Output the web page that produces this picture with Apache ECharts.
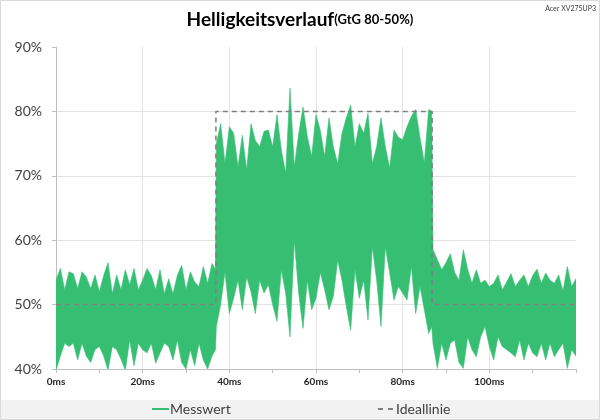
<!DOCTYPE html>
<html><head><meta charset="utf-8">
<script src="https://cdn.jsdelivr.net/npm/echarts@6/dist/echarts.min.js"></script>
<style>html,body{margin:0;padding:0;background:#fff}#c{width:600px;height:420px}</style>
</head><body><div id="c"></div>
<script>
// sample times in ms
const times = [0,1,2,3,4,5,6,7,8,9,10,11,12,13,14,15,16,17,18,19,20,21,22,23,24,25,26,27,28,29,30,31,32,33,34,35,36,36.8,
  37,38,39,40,41,42,43,44,45,46,47,48,49,50,51,52,53,54,55,56,57,58,59,60,61,62,63,64,65,66,67,68,69,70,71,72,73,74,75,76,77,78,79,80,81,82,83,84,85,86,86.7,
  87,88,89,90,91,92,93,94,95,96,97,98,99,100,101,102,103,104,105,106,107,108,109,110,111,112,113,114,115,116,117,118,119,120];
// upper envelope of the measured brightness (%)
const upper = [53.8,55.6,52.3,55.1,54.8,52.5,55.1,54.3,52.5,54.6,52.0,54.5,56.5,51.7,54.6,52.3,55.4,53.1,55.6,52.3,53.8,55.6,54.5,52.3,55.4,51.7,54.0,51.7,54.5,56.1,52.3,55.1,53.5,52.8,55.9,53.3,56.4,55.5,
  75.0,78.1,71.9,77.6,76.6,71.4,76.3,70.9,78.1,75.5,74.5,76.9,77.1,74.5,79.5,74.0,70.4,83.6,71.4,76.5,80.7,76.1,73.0,79.5,77.0,73.0,79.0,74.5,71.9,76.6,79.0,81.0,74.5,78.1,76.6,79.7,71.9,74.5,79.0,74.5,71.2,77.1,76.0,75.6,77.6,79.2,80.3,75.9,72.0,80.3,80.0,
  58.5,57.0,55.4,56.5,57.9,55.0,53.8,58.5,55.5,53.3,55.4,53.3,53.8,52.8,53.3,54.6,52.3,53.5,54.8,52.8,53.8,54.6,52.8,54.5,55.5,53.3,54.9,53.8,53.3,54.6,52.1,55.9,52.8,54.0];
// lower envelope of the measured brightness (%)
const lower = [39.8,42,44,43.5,44,41.4,44,42,41,43,43.5,42,39.8,43.5,43,41.5,39.8,44.5,40.5,44,43,42.5,44,40.9,42.5,44,43.5,41.4,44.5,41,40,43,40.5,44,41.4,40,42,43,
  46.6,50,55.1,48.6,51,53.8,49.2,54.3,52,48.6,53.8,51.8,53.1,50,47.4,55.4,51.8,45.0,60,51.8,46.3,53.8,49.2,51,55,52.3,49.2,51.3,56.9,53.8,49.7,46.0,55.4,51,53.8,47.6,59,53.8,46.6,59,54.9,50.7,52.8,51.8,50.7,55.9,48.6,52.8,49.2,45.5,46.6,
  44,40.1,44,41.4,44,44.5,41,40.1,45,43,41.9,45,46.6,43.5,41.4,45,43.5,43,42.5,41.9,44.5,41.4,44,42.5,41.9,44,41.4,44,41.9,43,44,40.1,43,42];
// ideal line
const idealTimes = [0, 36.9, 36.9, 86.8, 86.8, 120];
const idealValues = [50, 50, 80, 80, 50, 50];

const GREEN = '#36bf72';
const FONT = 'Lato, "Open Sans", sans-serif';

const bandData = times.map((t, i) => [t, lower[i], upper[i]]);
const idealData = idealTimes.map((t, i) => [t, idealValues[i]]);

function renderBand(params, api) {
  if (params.dataIndex !== 0) return null;
  const pts = [];
  for (let i = 0; i < times.length; i++) pts.push(api.coord([times[i], upper[i]]));
  for (let i = times.length - 1; i >= 0; i--) pts.push(api.coord([times[i], lower[i]]));
  const cs = params.coordSys;
  return {
    type: 'polygon',
    shape: {points: pts},
    style: {fill: GREEN, stroke: GREEN, lineWidth: 0.6},
    clipPath: {type: 'rect', shape: {x: cs.x, y: cs.y, width: cs.width, height: cs.height}}
  };
}

const chart = echarts.init(document.getElementById('c'), null, {renderer: 'canvas'});
chart.setOption({
  animation: false,
  backgroundColor: '#ffffff',
  title: {
    left: 'center', top: 5,
    text: '{a|Helligkeitsverlauf}{b|(GtG 80-50%)}',
    textStyle: {
      rich: {
        a: {fontFamily: FONT, fontSize: 19, fontWeight: 'bold', color: '#000'},
        b: {fontFamily: FONT, fontSize: 13, fontWeight: 'bold', color: '#000'}
      }
    }
  },
  graphic: [
    {type: 'rect', silent: true, z: -10, shape: {x: 1, y: 400, width: 598, height: 19}, style: {fill: '#f2f2f2'}},
    {type: 'rect', silent: true, z: 100, shape: {x: 0.5, y: 0.5, width: 599, height: 419}, style: {fill: 'none', stroke: '#d9d9d9', lineWidth: 1}},
    {type: 'text', right: 4, top: 5, style: {text: 'Acer XV275UP3', fontFamily: FONT, fontSize: 7, fill: '#404040'}}
  ],
  legend: [
    {left: 152, top: 402, padding: 0, itemWidth: 17, itemHeight: 2, data: [{name: 'Messwert', icon: 'rect'}],
     textStyle: {fontFamily: FONT, fontSize: 14, color: '#404040', padding: [0, 0, 0, -4]}},
    {left: 378, top: 402, padding: 0, itemWidth: 15, itemHeight: 2, data: [{name: 'Ideallinie', icon: 'path://M0,0h5v2h-5z M10,0h5v2h-5z'}],
     textStyle: {fontFamily: FONT, fontSize: 14, color: '#404040', padding: [0, 0, 0, -2]}}
  ],
  grid: {left: 56, right: 24, top: 47, bottom: 51, containLabel: false},
  xAxis: {
    type: 'value', min: 0, max: 120, interval: 20,
    axisLine: {show: true, lineStyle: {color: '#bfbfbf', width: 1}},
    axisTick: {show: true, length: 4, lineStyle: {color: '#bfbfbf'}},
    minorTick: {show: true, splitNumber: 2, length: 4, lineStyle: {color: '#bfbfbf'}},
    axisLabel: {formatter: v => v + 'ms', showMaxLabel: false, margin: 8, fontFamily: FONT, fontSize: 10, fontWeight: 'bold', color: '#262626'},
    splitLine: {show: true, lineStyle: {color: ['#e3e3e3','#e3e3e3','#e3e3e3','#e3e3e3','#e3e3e3','#e3e3e3','rgba(0,0,0,0)'], width: 1}}
  },
  yAxis: {
    type: 'value', min: 40, max: 90, interval: 10,
    axisLine: {show: true, lineStyle: {color: '#bfbfbf', width: 1}},
    axisTick: {show: true, length: 4, lineStyle: {color: '#bfbfbf'}},
    axisLabel: {formatter: v => v + '%', margin: 14, fontFamily: FONT, fontSize: 14, color: '#404040'},
    splitLine: {show: true, lineStyle: {color: ['#e3e3e3','#e3e3e3','#e3e3e3','#e3e3e3','#e3e3e3','rgba(0,0,0,0)'], width: 1}}
  },
  series: [
    {name: 'Messwert', type: 'custom', data: bandData, renderItem: renderBand, silent: true,
     encode: {x: 0, y: [1, 2]}, color: GREEN, itemStyle: {color: GREEN}, z: 3},
    {name: 'Ideallinie', type: 'line', data: idealData, symbol: 'none', silent: true,
     color: '#7f7f7f', lineStyle: {width: 1.5, type: [5, 4], color: '#7f7f7f'}, z: 5}
  ]
});
</script></body></html>
